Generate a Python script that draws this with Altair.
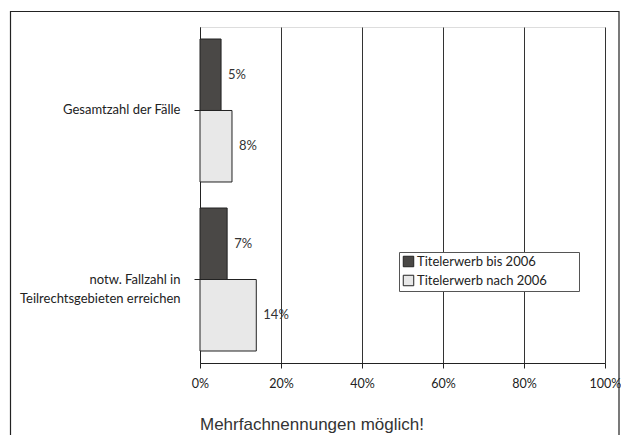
import altair as alt
import pandas as pd

categories = ["Gesamtzahl der Fälle", "notw. Fallzahl in\nTeilrechtsgebieten erreichen"]
series = ["Titelerwerb bis 2006", "Titelerwerb nach 2006"]
values_bis = [0.052, 0.067]
values_nach = [0.079, 0.139]
labels_bis = ["5%", "7%"]
labels_nach = ["8%", "14%"]
x_ticks = [0, 0.2, 0.4, 0.6, 0.8, 1.0]
note = "Mehrfachnennungen möglich!"

rows = []
for i, c in enumerate(categories):
    rows.append({"cat": c, "series": series[0], "value": values_bis[i], "label": labels_bis[i]})
    rows.append({"cat": c, "series": series[1], "value": values_nach[i], "label": labels_nach[i]})
df = pd.DataFrame(rows)

FONT = "Lato"

y_enc = alt.Y("cat:N", sort=categories, title=None,
              scale=alt.Scale(paddingInner=0.154, paddingOuter=0.071),
              axis=alt.Axis(labelExpr="split(datum.value, '\\n')", labelFont=FONT,
                            labelFontSize=13, labelColor="#222", labelLineHeight=19,
                            labelPadding=14, tickSize=6, tickColor="#222",
                            domainColor="#222", labelLimit=300))
yoff = alt.YOffset("series:N", sort=series, scale=alt.Scale(paddingInner=0, paddingOuter=0))
x_enc = alt.X("value:Q", title=None,
              scale=alt.Scale(domain=[0, 1], nice=False),
              axis=alt.Axis(values=x_ticks, format=".0%", labelFont=FONT, labelFontSize=12.5,
                            labelColor="#222", tickSize=5, tickColor="#222",
                            domainColor="#222", gridColor="#333", gridWidth=1,
                            labelPadding=9, labelFlush=False))

bars = alt.Chart(df).mark_bar(stroke="#222", strokeWidth=1).encode(
    y=y_enc, yOffset=yoff, x=x_enc,
    fill=alt.Fill("series:N", sort=series,
                  scale=alt.Scale(domain=series, range=["#4a4846", "#e8e8e8"]),
                  legend=alt.Legend(title=None, orient="none", legendX=199, legendY=225,
                                    padding=3,
                                    labelFont=FONT, labelFontSize=13, labelColor="#222",
                                    symbolType="square", symbolSize=110,
                                    symbolStrokeColor="#222", symbolStrokeWidth=1,
                                    labelOffset=2, rowPadding=4)),
)

texts = alt.Chart(df).mark_text(align="left", dx=7, font=FONT, fontSize=13, color="#333").encode(
    y=alt.Y("cat:N", sort=categories), yOffset=alt.YOffset("series:N", sort=series),
    x="value:Q", text="label:N")

legend_box = alt.Chart(alt.Data(values=[{}])).mark_rect(fill="white", stroke="#555", strokeWidth=1).encode(
    x=alt.value(199.5), x2=alt.value(379.5), y=alt.value(225.5), y2=alt.value(264.5))

frame = alt.Chart(alt.Data(values=[{}])).mark_rect(fill=None, stroke="#222", strokeWidth=1.2).encode(
    x=alt.value(-189.5), x2=alt.value(419), y=alt.value(-15.5), y2=alt.value(600))

title_text = alt.Chart(alt.Data(values=[{"t": note}])).mark_text(
    align="left", baseline="middle", font="Liberation Sans", fontSize=17, color="#333"
).encode(x=alt.value(0), y=alt.value(398), text="t:N")

chart = alt.layer(bars, texts, legend_box, frame, title_text).properties(
    width=405, height=336,
    padding={"left": 192, "top": 19, "right": 16, "bottom": 72},
    autosize=alt.AutoSizeParams(type="none"),
).configure_view(stroke="#777", strokeWidth=1).configure(background="white")

chart.save("out.html", embed_options={"renderer": "svg", "actions": False})
